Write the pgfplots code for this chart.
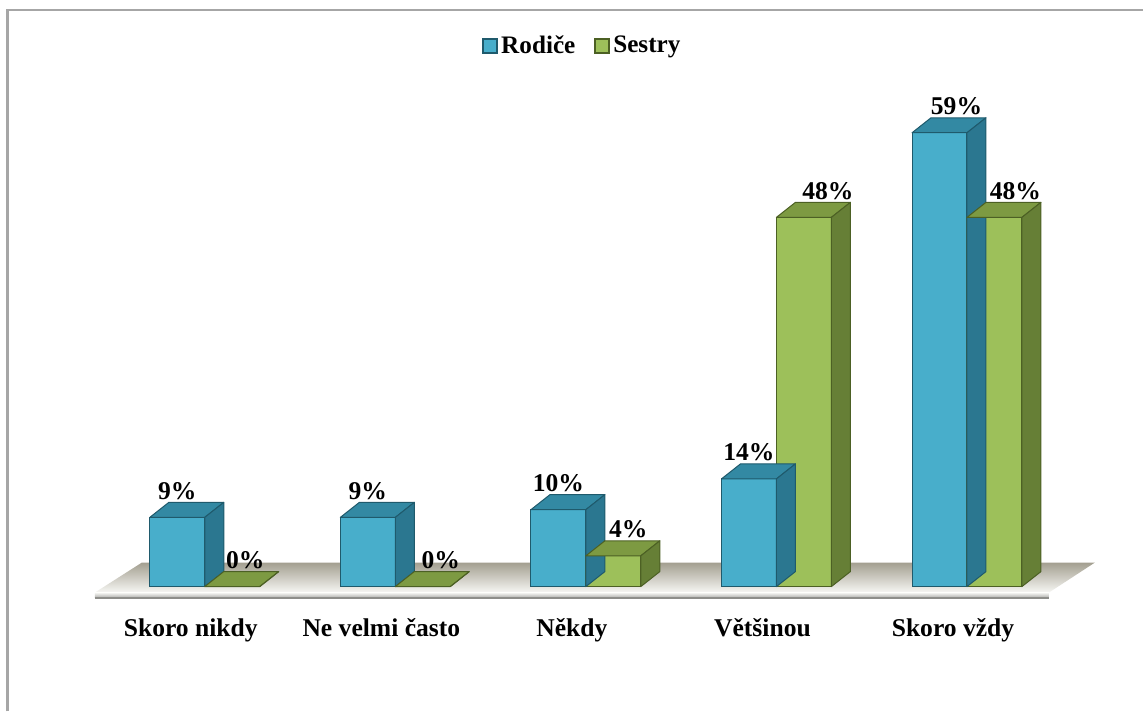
\documentclass[border=0pt]{standalone}
\usepackage{fontspec}
\setmainfont{Liberation Serif}
\usepackage{pgfplots}
\usepackage{pgfplotstable}
\pgfplotsset{compat=1.18}

\definecolor{rodFront}{HTML}{48AECB}
\definecolor{rodTop}{HTML}{3389A3}
\definecolor{rodSide}{HTML}{2B7790}
\definecolor{rodEdge}{HTML}{1F5A6C}
\definecolor{sesFront}{HTML}{9DC05A}
\definecolor{sesTop}{HTML}{7D9A42}
\definecolor{sesSide}{HTML}{667F36}
\definecolor{sesEdge}{HTML}{4C6024}
\definecolor{floorBack}{HTML}{A39F90}
\definecolor{floorFront}{HTML}{F7F7F4}
\definecolor{floorEdge}{HTML}{8E8E8A}
\definecolor{frameGray}{HTML}{A6A6A6}

% category index, share in %, horizontal offset of the value label (pt)
\pgfplotstableread{
x v lx
0 9 0
1 9 0
2 10 0
3 14 0
4 59 8.5
}\rodice
\pgfplotstableread{
x v lx
0 0 6.5
1 0 9
2 4 7.5
3 48 12
4 48 10.5
}\sestry

\newcommand\labfont{\bfseries\fontsize{12.8}{14}\selectfont}

% top and side faces of a bar; the front face is 27.5pt wide,
% the depth runs 9.5pt to the right and 7.5pt up, 3.85pt per percent
\pgfdeclareplotmark{rodcube}{%
  \pgfmathsetmacro\yb{7.5-\barval*3.85}%
  \pgfmathsetmacro\ya{-\barval*3.85}%
  \filldraw[fill=rodTop, draw=rodEdge, line width=0.5pt, line join=round]
    (-13.75pt,0pt) -- (-4.25pt,7.5pt) -- (23.25pt,7.5pt) -- (13.75pt,0pt) -- cycle;
  \filldraw[fill=rodSide, draw=rodEdge, line width=0.5pt, line join=round]
    (13.75pt,0pt) -- (23.25pt,7.5pt) -- (23.25pt,\yb pt) -- (13.75pt,\ya pt) -- cycle;
}
\pgfdeclareplotmark{sescube}{%
  \pgfmathsetmacro\yb{7.5-\barval*3.85}%
  \pgfmathsetmacro\ya{-\barval*3.85}%
  \filldraw[fill=sesTop, draw=sesEdge, line width=0.5pt, line join=round]
    (-13.75pt,0pt) -- (-4.25pt,7.5pt) -- (23.25pt,7.5pt) -- (13.75pt,0pt) -- cycle;
  \filldraw[fill=sesSide, draw=sesEdge, line width=0.5pt, line join=round]
    (13.75pt,0pt) -- (23.25pt,7.5pt) -- (23.25pt,\yb pt) -- (13.75pt,\ya pt) -- cycle;
}

\begin{document}
\begin{tikzpicture}
\begin{axis}[
  scale only axis,
  width=572pt, height=356pt,
  xmin=-1.0747, xmax=4.9227,
  ymin=-16.234, ymax=76.234,
  clip=false,
  axis line style={draw=none},
  major tick length=0pt,
  ytick=\empty,
  xtick={0,1,2,3,4},
  xticklabels={Skoro nikdy, Ne velmi často, Někdy, Většinou, Skoro vždy},
  xticklabel style={anchor=base, yshift=37.5pt, xshift=-7pt, font=\labfont},
  /pgf/number format/assume math mode=true,
  legend style={
    at={(axis cs:1.984,70.26)}, anchor=center,
    draw=none, fill=none,
    legend columns=2,
    font=\bfseries\fontsize{12.6}{14}\selectfont,
    nodes={inner sep=1.5pt},
    /tikz/every even column/.append style={column sep=8pt},
  },
]

% outer frame
\addplot[frameGray, line width=1.2pt, forget plot]
  coordinates {(-1.0354,-16.234) (-1.0354,74.935) (4.9227,74.935)};

% floor
\addplot[draw=none, top color=floorBack, bottom color=floorFront, forget plot]
  coordinates {(-0.5767,-0.779) (-0.3303,3.117) (4.671,3.117) (4.430,-0.779) (-0.5767,-0.779)};
\addplot[draw=none, top color=floorFront, bottom color=floorEdge!70, forget plot]
  coordinates {(-0.5767,-0.779) (4.430,-0.779) (4.430,-1.43) (-0.5767,-1.43) (-0.5767,-0.779)};
\addplot[floorEdge, line width=1pt, forget plot]
  coordinates {(-0.5767,-1.43) (4.430,-1.43)};

% Rodiče
\addplot[ybar, bar width=27.5pt, bar shift=0pt, fill=rodFront, draw=rodEdge, line width=0.5pt,
  legend image code/.code={\filldraw[fill=rodFront, draw=rodEdge, line width=1pt] (0pt,-3.5pt) rectangle (7pt,3.5pt);}]
  table[x expr=\thisrow{x}-0.14417, y=v] {\rodice};
\addlegendentry{Rodiče}
\addplot[only marks, mark=rodcube, forget plot,
  visualization depends on={rawy \as \barval},
  visualization depends on={\thisrow{lx} \as \labx},
  point meta=explicit,
  nodes near coords={\pgfmathprintnumber{\pgfplotspointmeta}\%},
  every node near coord/.append style={font=\labfont, text=black, anchor=base, yshift=9pt, xshift=\labx pt}]
  table[x expr=\thisrow{x}-0.14417, y=v, meta=v] {\rodice};

% Sestry
\addplot[ybar, bar width=27.5pt, bar shift=0pt, fill=sesFront, draw=sesEdge, line width=0.5pt,
  legend image code/.code={\filldraw[fill=sesFront, draw=sesEdge, line width=1pt] (0pt,-3.5pt) rectangle (7pt,3.5pt);}]
  table[x expr=\thisrow{x}+0.14417, y=v] {\sestry};
\addlegendentry{Sestry}
\addplot[only marks, mark=sescube, forget plot,
  visualization depends on={rawy \as \barval},
  visualization depends on={\thisrow{lx} \as \labx},
  point meta=explicit,
  nodes near coords={\pgfmathprintnumber{\pgfplotspointmeta}\%},
  every node near coord/.append style={font=\labfont, text=black, anchor=base, yshift=9pt, xshift=\labx pt}]
  table[x expr=\thisrow{x}+0.14417, y=v, meta=v] {\sestry};

\end{axis}
\end{tikzpicture}
\end{document}
